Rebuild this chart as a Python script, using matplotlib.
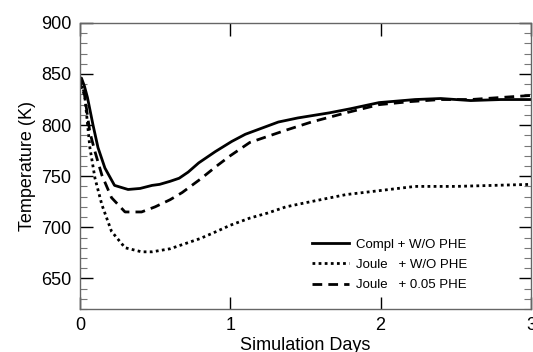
import matplotlib
matplotlib.use("Agg")
import matplotlib.pyplot as plt
from matplotlib.ticker import MultipleLocator

plt.rcParams['font.family'] = ['Liberation Sans', 'DejaVu Sans']

# simulation days and temperatures
days_compl = [0.0, 0.01, 0.03, 0.05, 0.087, 0.12, 0.166, 0.23, 0.32, 0.4, 0.48,
              0.53, 0.6, 0.66, 0.72, 0.79, 0.9, 1.01, 1.1, 1.21, 1.32, 1.45,
              1.66, 1.8, 1.99, 2.23, 2.4, 2.6, 2.8, 3.0]
temp_compl = [838, 846, 838, 827, 800, 778, 758, 741, 737, 738, 741,
              742, 745, 748, 754, 763, 774, 784, 791, 797, 803, 807,
              812, 816, 822, 825, 826, 824, 825, 825]

days_joule = [0.0, 0.01, 0.033, 0.066, 0.1, 0.146, 0.21, 0.3, 0.41, 0.48,
              0.6, 0.68, 0.8, 0.91, 1.0, 1.13, 1.25, 1.37, 1.5, 1.77, 2.0,
              2.23, 2.5, 2.75, 3.0]
temp_joule = [836, 840, 827, 778, 748, 722, 696, 680, 676, 676,
              679, 683, 689, 696, 702, 709, 714, 720, 724, 732, 736,
              740, 740, 741, 742]

days_phe = [0.0, 0.01, 0.03, 0.066, 0.1, 0.146, 0.21, 0.3, 0.41, 0.5, 0.6,
            0.68, 0.8, 0.91, 1.0, 1.13, 1.25, 1.37, 1.54, 1.77, 1.99, 2.2,
            2.4, 2.6, 2.8, 3.0]
temp_phe = [836, 843, 830, 793, 774, 751, 729, 715, 715, 720, 727,
            734, 747, 760, 770, 783, 789, 795, 803, 812, 820, 823,
            825, 825, 827, 829]

labels = ["Compl + W/O PHE", "Joule   + W/O PHE", "Joule   + 0.05 PHE"]

fig = plt.figure(figsize=(5.33, 3.52), dpi=100)
ax = fig.add_axes([0.150, 0.122, 0.846, 0.813])

ax.plot(days_compl, temp_compl, color='black', lw=2.0, label=labels[0])
ax.plot(days_joule, temp_joule, color='black', lw=2.0, ls=(0, (1, 1.2)), label=labels[1])
ax.plot(days_phe, temp_phe, color='black', lw=2.0, ls=(0, (3.5, 2.2)), label=labels[2])

ax.set_xlim(0, 3)
ax.set_ylim(620, 900)
ax.xaxis.set_major_locator(MultipleLocator(1))
ax.yaxis.set_major_locator(MultipleLocator(50))
ax.yaxis.set_minor_locator(MultipleLocator(10))
ax.tick_params(axis='both', which='major', direction='in', length=9, width=1,
               labelsize=13, top=True, right=True, pad=6, color='black')
ax.tick_params(axis='y', which='minor', direction='in', length=5, width=0.8,
               right=True, color='#777777')
for s in ax.spines.values():
    s.set_color('#666666')
    s.set_linewidth(1)

ax.set_xlabel("Simulation Days", fontsize=13, labelpad=2)
ax.set_ylabel("Temperature (K)", fontsize=13, labelpad=4)

ax.legend(loc='upper left', bbox_to_anchor=(0.501, 0.27), frameon=False,
          fontsize=9.5, handlelength=2.8, handletextpad=0.5, labelspacing=0.62,
          borderpad=0)

fig.savefig("out.png", dpi=100)
